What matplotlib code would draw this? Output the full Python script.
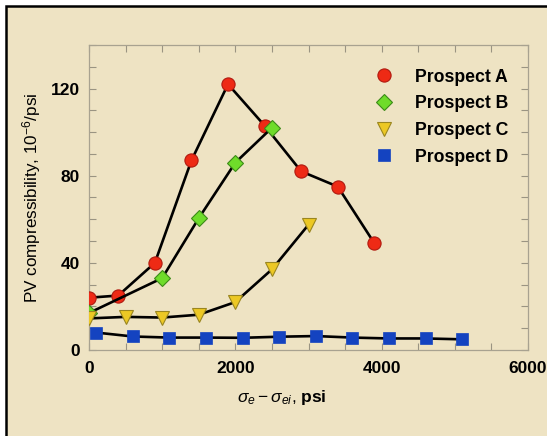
import matplotlib
matplotlib.use("Agg")
import matplotlib.pyplot as plt
from matplotlib.patches import Rectangle
from matplotlib.ticker import MultipleLocator

# values
a_x = [0, 400, 900, 1400, 1900, 2400, 2900, 3400, 3900]
a_y = [24, 25, 40, 87, 122, 103, 82, 75, 49]
b_x = [0, 1000, 1500, 2000, 2500]
b_y = [17, 33, 60.5, 86, 102]
c_x = [0, 500, 1000, 1500, 2000, 2500, 3000]
c_y = [14.5, 15.2, 14.9, 16.2, 22, 37, 57.5]
d_x = [100, 600, 1100, 1600, 2100, 2600, 3100, 3600, 4100, 4600, 5100]
d_y = [8, 6.2, 5.7, 5.7, 5.6, 6.1, 6.4, 5.7, 5.3, 5.3, 4.9]

bg = "#eee3c3"
plt.rcParams['font.family'] = ['Liberation Sans', 'DejaVu Sans']
plt.rcParams['mathtext.fontset'] = 'custom'
plt.rcParams['mathtext.rm'] = 'Liberation Sans'
plt.rcParams['mathtext.it'] = 'Liberation Sans:italic'
plt.rcParams['mathtext.bf'] = 'Liberation Sans:bold'

fig = plt.figure(figsize=(5.47, 4.36), dpi=100, facecolor='white')
# page frame: only top and left edges fall inside the image
fig.patches.append(Rectangle((6 / 547, -0.05), 1.1, 1.05 - 6 / 436, transform=fig.transFigure,
                             facecolor=bg, edgecolor='black', linewidth=1.8, zorder=-10))
ax = fig.add_axes([89 / 547, 86 / 436, 439 / 547, 305 / 436])
ax.set_facecolor(bg)

lw = 1.9
ax.plot(a_x, a_y, color='black', lw=lw, marker='o', ms=9.5, mfc='#ee2a15', mec='#b01a10', mew=0.8,
        label='Prospect A', zorder=3)
ax.plot(b_x, b_y, color='black', lw=lw, marker='D', ms=8.5, mfc='#6fdc2a', mec='#3c8a18', mew=0.8,
        label='Prospect B', zorder=3)
ax.plot(c_x, c_y, color='black', lw=lw, marker='v', ms=10.5, mfc='#ecc824', mec='#9a8620', mew=0.8,
        label='Prospect C', zorder=3)
ax.plot(d_x, d_y, color='black', lw=lw, marker='s', ms=8.5, mfc='#1443c0', mec='#1443c0', mew=0.5,
        label='Prospect D', zorder=3)

ax.set_xlim(0, 6000)
ax.set_ylim(0, 140)
ax.xaxis.set_major_locator(MultipleLocator(2000))
ax.xaxis.set_minor_locator(MultipleLocator(500))
ax.yaxis.set_major_locator(MultipleLocator(40))
ax.yaxis.set_minor_locator(MultipleLocator(10))
ax.tick_params(which='both', direction='in', top=True, right=True, color='#9a9482', width=0.8)
ax.tick_params(which='major', length=5, labelsize=12.5)
ax.tick_params(which='minor', length=5)
ax.tick_params(axis='x', which='major', pad=8)
ax.tick_params(axis='y', which='major', pad=6.5)
for lab in ax.get_xticklabels() + ax.get_yticklabels():
    lab.set_fontweight('bold')
for s in ax.spines.values():
    s.set_color('#a8a290')
    s.set_linewidth(0.9)

ax.set_ylabel('PV compressibility, 10$^{-6}$/psi', fontsize=12.3)
ax.set_xlabel(r'$\mathit{\sigma_e}-\mathit{\sigma_{ei}}$, $\mathbf{psi}$', fontsize=12.5)
ax.xaxis.set_label_coords(0.44, -0.125)
ax.yaxis.set_label_coords(-0.105, 0.5)

leg = ax.legend(handles=ax.lines, loc='upper left', bbox_to_anchor=(0.635, 0.975), frameon=False,
                handlelength=0, handletextpad=1.75, labelspacing=0.55, prop={'weight': 'bold', 'size': 12.7})
for h in leg.legend_handles:
    h.set_linestyle('none')

fig.savefig('out.png', dpi=100, facecolor='white')
